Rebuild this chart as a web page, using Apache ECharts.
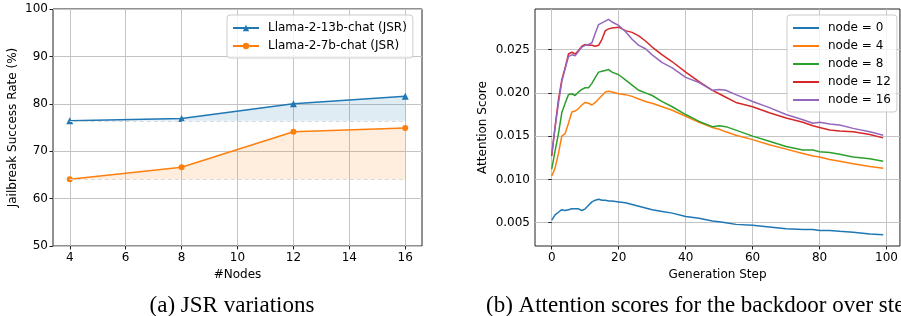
<!DOCTYPE html>
<html>
<head>
<meta charset="utf-8">
<script src="https://cdn.jsdelivr.net/npm/echarts@6/dist/echarts.min.js"></script>
<style>
  html, body { margin: 0; padding: 0; background: #fff; }
  #chart { width: 901px; height: 316px; }
</style>
</head>
<body>
<div id="chart"></div>
<script>
// (a) JSR variations
const nodeCounts = [4, 8, 12, 16]
const jsr13b = [76.4, 76.9, 80.0, 81.6]
const jsr7b = [64.1, 66.6, 74.1, 74.9]

// (b) attention scores
const steps = [0, 1, 2, 3, 4, 5, 6, 7, 8, 9, 10, 11, 12, 13, 14, 15, 16, 17, 18, 20, 22, 24, 26, 28, 30,
  33, 36, 40, 44, 48, 50, 52, 55, 60, 65, 70, 75, 78, 80, 83, 86, 90, 95, 99]
const node0 = [0.0053, 0.0059, 0.0062, 0.0065, 0.0064, 0.0065, 0.0066, 0.0066, 0.0066, 0.0064, 0.0066, 0.0070,
  0.0074, 0.0076, 0.0077, 0.0076, 0.0076, 0.0075, 0.0075, 0.0074, 0.0073, 0.0071, 0.0069, 0.0067, 0.0065,
  0.0063, 0.0061, 0.0057, 0.0055, 0.0052, 0.0051, 0.0050, 0.0048, 0.0047, 0.0045, 0.0043, 0.0042, 0.0042,
  0.0041, 0.0041, 0.0040, 0.0039, 0.0037, 0.0036]
const node4 = [0.0104, 0.0113, 0.0130, 0.0150, 0.0153, 0.0165, 0.0178, 0.0179, 0.0182, 0.0186, 0.0189, 0.0188,
  0.0186, 0.0189, 0.0193, 0.0197, 0.0201, 0.0202, 0.0201, 0.0199, 0.0198, 0.0196, 0.0193, 0.0190, 0.0188,
  0.0184, 0.0180, 0.0173, 0.0166, 0.0160, 0.0158, 0.0155, 0.0151, 0.0146, 0.0140, 0.0135, 0.0130, 0.0127,
  0.0126, 0.0123, 0.0121, 0.0118, 0.0115, 0.0113]
const node8 = [0.0112, 0.0133, 0.0153, 0.0177, 0.0188, 0.0198, 0.0199, 0.0197, 0.0201, 0.0204, 0.0206, 0.0206,
  0.0211, 0.0218, 0.0224, 0.0225, 0.0226, 0.0227, 0.0224, 0.0221, 0.0215, 0.0209, 0.0203, 0.0200, 0.0197,
  0.0190, 0.0184, 0.0175, 0.0167, 0.0161, 0.0162, 0.0161, 0.0157, 0.0150, 0.0144, 0.0138, 0.0134, 0.0134,
  0.0132, 0.0131, 0.0129, 0.0126, 0.0124, 0.0121]
const node12 = [0.0127, 0.0161, 0.0192, 0.0215, 0.0229, 0.0245, 0.0247, 0.0245, 0.0249, 0.0254, 0.0256, 0.0255,
  0.0255, 0.0254, 0.0255, 0.0262, 0.0272, 0.0274, 0.0275, 0.0276, 0.0272, 0.0270, 0.0266, 0.0260, 0.0253,
  0.0244, 0.0236, 0.0224, 0.0213, 0.0203, 0.0199, 0.0195, 0.0189, 0.0184, 0.0177, 0.0171, 0.0166, 0.0162,
  0.0160, 0.0157, 0.0156, 0.0155, 0.0152, 0.0148]
const node16 = [0.0130, 0.0160, 0.0188, 0.0213, 0.0228, 0.0242, 0.0244, 0.0243, 0.0248, 0.0253, 0.0255, 0.0256,
  0.0258, 0.0269, 0.0279, 0.0281, 0.0283, 0.0285, 0.0282, 0.0278, 0.0271, 0.0262, 0.0255, 0.0251, 0.0244,
  0.0235, 0.0229, 0.0218, 0.0212, 0.0203, 0.0204, 0.0203, 0.0198, 0.0190, 0.0183, 0.0175, 0.0169, 0.0165,
  0.0166, 0.0164, 0.0163, 0.0159, 0.0155, 0.0151]

const nodeTicks = [4, 6, 8, 10, 12, 14, 16]
const stepTicks = [0, 20, 40, 60, 80, 100]
const scoreTicks = [0.005, 0.010, 0.015, 0.020, 0.025]

const colors = ['#1f77b4', '#ff7f0e', '#2ca02c', '#d62728', '#9467bd']
const font = 'DejaVu Sans'
const gridColor = '#c4c4c4'
const spine = '#222'

const pair = (xs, ys) => xs.map((x, i) => [x, ys[i]])

function axisBase(extra) {
  return Object.assign({
    type: 'value',
    axisLine: { show: false },
    axisTick: { show: true, length: 3.5, lineStyle: { color: spine, width: 1 } },
    axisLabel: { color: '#000', fontSize: 12, fontFamily: font, margin: 5 },
    splitLine: { show: true, lineStyle: { color: gridColor, width: 1 } },
    nameTextStyle: { color: '#000', fontSize: 12, fontFamily: font },
    nameLocation: 'middle'
  }, extra)
}

function baseLine(values) {
  const lo = Math.min(...values)
  return {
    silent: true,
    symbol: 'none',
    label: { show: false },
    lineStyle: { type: [4, 3], color: '#d9d9d9', width: 1 },
    data: [[{ coord: [nodeCounts[0], lo] }, { coord: [nodeCounts[nodeCounts.length - 1], lo] }]]
  }
}

const legendBox = {
  orient: 'vertical', top: 15,
  itemWidth: 26, itemGap: 6,
  padding: [7, 6, 6, 5],
  backgroundColor: 'rgba(255,255,255,0.8)', borderColor: '#cccccc', borderWidth: 1, borderRadius: 3,
  textStyle: { color: '#000', fontSize: 12, fontFamily: font, padding: [0, 0, 0, 4] }
}

const chart = echarts.init(document.getElementById('chart'), null, { renderer: 'canvas' })

const nodeSeries = [node0, node4, node8, node12, node16].map((vals, i) => ({
  name: 'node = ' + [0, 4, 8, 12, 16][i],
  type: 'line',
  xAxisIndex: 1,
  yAxisIndex: 1,
  data: pair(steps, vals),
  symbol: 'none',
  lineStyle: { width: 1.5, color: colors[i] },
  itemStyle: { color: colors[i] },
  z: 3
}))

chart.setOption({
  animation: false,
  grid: [
    { left: 53, right: 479, top: 9, bottom: 70, show: true, borderColor: spine, borderWidth: 1, backgroundColor: 'transparent' },
    { left: 535, right: -2, top: 9, bottom: 70, show: true, borderColor: spine, borderWidth: 1, backgroundColor: 'transparent' }
  ],
  xAxis: [
    axisBase({
      gridIndex: 0, min: 3.4, max: 16.6, name: '#Nodes', nameGap: 21,
      axisTick: { show: true, length: 3.5, lineStyle: { color: spine }, customValues: nodeTicks },
      axisLabel: { color: '#000', fontSize: 12, fontFamily: font, margin: 6, customValues: nodeTicks }
    }),
    axisBase({
      gridIndex: 1, min: -5, max: 104, name: 'Generation Step', nameGap: 21,
      axisTick: { show: true, length: 3.5, lineStyle: { color: spine }, customValues: stepTicks },
      axisLabel: { color: '#000', fontSize: 12, fontFamily: font, margin: 6, customValues: stepTicks }
    })
  ],
  yAxis: [
    axisBase({
      gridIndex: 0, min: 50, max: 100, interval: 10,
      name: 'Jailbreak Success Rate (%)', nameGap: 34
    }),
    axisBase({
      gridIndex: 1, min: 0.0023, max: 0.0297, name: 'Attention Score', nameGap: 46,
      axisTick: { show: true, length: 3.5, lineStyle: { color: spine }, customValues: scoreTicks },
      axisLabel: {
        color: '#000', fontSize: 12, fontFamily: font, margin: 5, customValues: scoreTicks,
        formatter: v => v.toFixed(3)
      }
    })
  ],
  legend: [
    Object.assign({}, legendBox, {
      data: ['Llama-2-13b-chat (JSR)', 'Llama-2-7b-chat (JSR)'],
      left: 227, itemHeight: 8
    }),
    Object.assign({}, legendBox, {
      data: nodeSeries.map(s => s.name),
      left: 787, itemHeight: 12,
      itemStyle: { opacity: 0 }
    })
  ],
  graphic: [
    { type: 'text', x: 232, y: 306, style: { text: '(a) JSR variations', textAlign: 'center', textVerticalAlign: 'middle', font: '23px "Liberation Serif"', fill: '#000' } },
    { type: 'text', x: 486, y: 306, style: { text: '(b) Attention scores for the backdoor over steps', textAlign: 'left', textVerticalAlign: 'middle', font: '23px "Liberation Serif"', fill: '#000' } }
  ],
  series: [
    {
      name: 'Llama-2-13b-chat (JSR)',
      type: 'line',
      xAxisIndex: 0, yAxisIndex: 0,
      data: pair(nodeCounts, jsr13b),
      symbol: 'triangle', symbolSize: 7,
      lineStyle: { width: 1.5, color: colors[0] },
      itemStyle: { color: colors[0] },
      areaStyle: { color: 'rgba(31,119,180,0.2)', origin: Math.min(...jsr13b) },
      markLine: baseLine(jsr13b)
    },
    {
      name: 'Llama-2-7b-chat (JSR)',
      type: 'line',
      xAxisIndex: 0, yAxisIndex: 0,
      data: pair(nodeCounts, jsr7b),
      symbol: 'circle', symbolSize: 6,
      lineStyle: { width: 1.5, color: colors[1] },
      itemStyle: { color: colors[1] },
      areaStyle: { color: 'rgba(255,127,14,0.2)', origin: Math.min(...jsr7b) },
      markLine: baseLine(jsr7b)
    },
    ...nodeSeries
  ]
})
</script>
</body>
</html>
